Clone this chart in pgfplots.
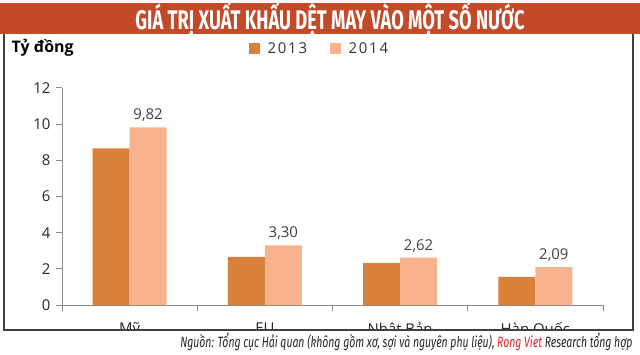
\documentclass[border=0pt]{standalone}
\usepackage{pgfplots}
\pgfplotsset{compat=1.18}
\usepackage{fontspec}
\setmainfont{DejaVu Sans}
\newfontfamily\titlefont{Fira Sans}
\newfontfamily\lblfont{Open Sans}
\newfontfamily\legfont[LetterSpace=12]{Open Sans}
\definecolor{banner}{HTML}{C24A28}
\definecolor{cA}{HTML}{D9803A}
\definecolor{cB}{HTML}{F8B38E}
\definecolor{axgray}{HTML}{8A8A8A}
\definecolor{srcred}{HTML}{E0262B}
\begin{document}
\begin{tikzpicture}[x=1bp,y=1bp]
\path[use as bounding box] (0,0) rectangle (640,354);
\fill[banner] (0,351) rectangle (640,320);
\node[text=white,font=\titlefont\bfseries\fontsize{27}{30}\selectfont] at (330,335.5) {\scalebox{0.68}[1]{GIÁ TRỊ XUẤT KHẨU DỆT MAY VÀO MỘT SỐ NƯỚC}};
\begin{axis}[
  at={(62bp,49bp)}, anchor=south west,
  scale only axis, width=541bp, height=217bp,
  ymin=0, ymax=12, xmin=-0.5, xmax=3.5,
  ytick={0,2,...,12},
  xtick={-0.5,0.5,1.5,2.5,3.5},
  xticklabels={},
  extra x ticks={0,1,2,3},
  extra x tick labels={Mỹ,EU,Nhật Bản,Hàn Quốc},
  extra x tick style={major tick length=0pt, tick style={draw=none}},
  axis x line*=bottom, axis y line*=left,
  axis line style={axgray, line width=1bp, -},
  x axis line style={-}, y axis line style={-},
  major tick length=6bp,
  tick style={axgray, line width=1bp},
  xtick pos=bottom, ytick pos=left,
  tick align=outside,
  ticklabel style={font=\lblfont\fontsize{15}{18}\selectfont, text=black!85},
  xticklabel style={yshift=-14bp},
  yticklabel style={xshift=-2bp},
  /pgf/number format/assume math mode=true,
  ybar=0pt, bar width=37bp,
  enlarge x limits=false,
  clip=false,
]
\addplot[fill=cA, draw=none] coordinates {(0,8.66) (1,2.66) (2,2.32) (3,1.55)};
\addplot[fill=cB, draw=none,
  nodes near coords,
  every node near coord/.append style={font=\lblfont\fontsize{15}{18}\selectfont, text=black!75, yshift=2bp},
  /pgf/number format/.cd, use comma, fixed, fixed zerofill, precision=2]
  coordinates {(0,9.82) (1,3.30) (2,2.62) (3,2.09)};
\end{axis}
% cover below box to clip category labels
\fill[white] (0,0) rectangle (640,23.5);
\draw[black!75, line width=1.3bp] (4,320) -- (4,24) -- (633,24) -- (633,320);
\node[anchor=west, font=\lblfont\bfseries\fontsize{16}{18}\selectfont] at (8,306) {Tỷ đồng};
\fill[cA] (249,300) rectangle (260,311);
\node[anchor=west, font=\legfont\fontsize{15}{18}\selectfont, text=black!80] at (264,305.5) {2013};
\fill[cB] (330,300) rectangle (341,311);
\node[anchor=west, font=\legfont\fontsize{15}{18}\selectfont, text=black!80] at (345,305.5) {2014};
\node[anchor=east, font=\titlefont\itshape\fontsize{15}{17}\selectfont, text=black!85] at (636,12) {\scalebox{0.7}[1]{Nguồn: Tổng cục Hải quan (không gồm xơ, sợi và nguyên phụ liệu), \textcolor{srcred}{Rong Viet} Research tổng hợp}};
\end{tikzpicture}
\end{document}
